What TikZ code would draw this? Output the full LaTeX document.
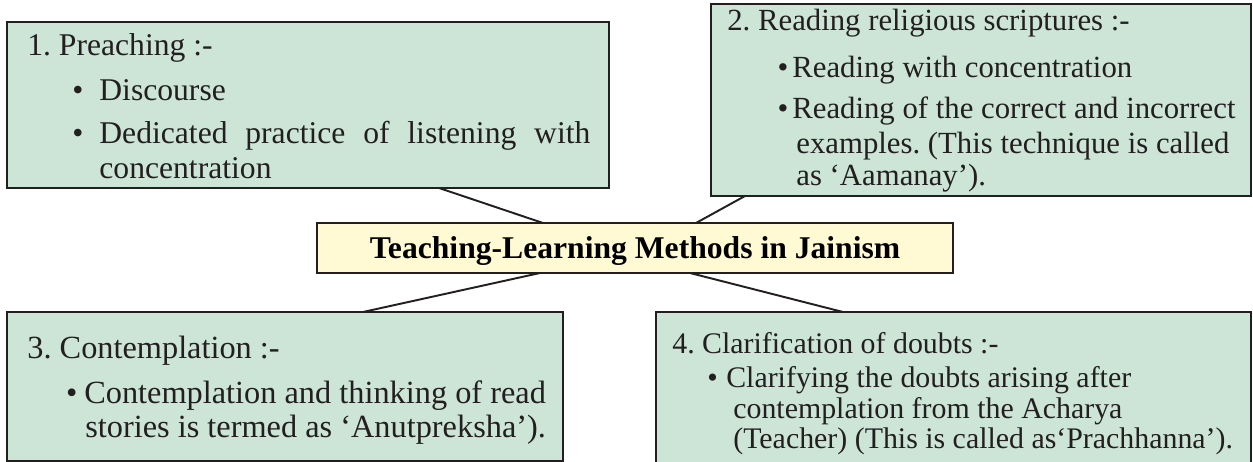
\documentclass[tikz,border=0pt]{standalone}
\usepackage{fontspec}
\setmainfont{Liberation Serif}
\usepackage{xcolor}
\usepackage{tikz}
\usetikzlibrary{positioning}

\definecolor{mint}{RGB}{204,229,214}
\definecolor{cream}{RGB}{255,250,212}
\definecolor{ink}{RGB}{35,31,32}

\newcommand{\blt}[2]{\hspace*{#1}\makebox[#2][l]{\textbullet}}
\frenchspacing

\begin{document}
\begin{tikzpicture}[
    blk/.style={draw=ink, line width=1.2pt, inner sep=0pt, outer sep=0pt},
    grp/.style={blk, fill=mint},
    ttl/.style={blk, fill=cream, font=\fontsize{18}{20}\selectfont\bfseries,
                text height=12pt, text depth=0pt},
    txt/.style={anchor=north west, align=left, inner sep=0pt, text=ink},
    lnk/.style={draw=ink, line width=1.1pt}
  ]
  \clip (0,0) rectangle (25.06,9.24);

  \node[grp, minimum width=12.04cm, minimum height=3.32cm] (g1) at (6.16,7.14) {};
  \node[grp, minimum width=10.80cm, minimum height=3.84cm] (g2) at (19.62,7.24) {};
  \node[grp, minimum width=11.12cm, minimum height=2.98cm] (g3) at (5.70,1.51) {};
  \node[grp, minimum width=11.90cm, minimum height=3.26cm] (g4) at (19.07,1.37) {};
  \node[ttl, minimum width=12.72cm, minimum height=1.00cm] (ctr) at (12.70,4.28)
    {Teaching-Learning Methods in Jainism};

  \node[txt, font=\fontsize{18}{20}\selectfont] (t1) at ([xshift=0.40cm, yshift=-6.5pt]g1.north west)
    {1. Preaching :-\\[5.6pt]
     \blt{25.6pt}{15.4pt}Discourse\\[4.5pt]
     \blt{25.6pt}{15.4pt}\makebox[279.4pt][s]{Dedicated practice of listening with}\\
     \hspace*{41pt}concentration};

  \node[txt, font=\fontsize{17.5}{19.5}\selectfont] (t2) at ([xshift=0.32cm, yshift=-2.9pt]g2.north west)
    {2. Reading religious scriptures :-\\[7.2pt]
     \blt{28.6pt}{8.4pt}Reading with concentration\\[3.8pt]
     \blt{28.6pt}{8.4pt}Reading of the correct and incorrect\\[0.4pt]
     \hspace*{39.3pt}examples. (This technique is called\\[-1.3pt]
     \hspace*{39.3pt}as `Aamanay').};

  \node[txt, font=\fontsize{18.4}{19.5}\selectfont] (t3) at ([xshift=0.40cm, yshift=-13.6pt]g3.north west)
    {3. Contemplation :-\\[6.1pt]
     \blt{22pt}{10.4pt}Contemplation and thinking of read\\
     \hspace*{33pt}stories is termed as `Anutpreksha').};

  \node[txt, font=\fontsize{17}{17.3}\selectfont] (t4) at ([xshift=0.32cm, yshift=-11.7pt]g4.north west)
    {4. Clarification of doubts :-\\[2pt]
     \blt{19.9pt}{10.8pt}Clarifying the doubts arising after\\
     \hspace*{34.7pt}contemplation from the Acharya\\
     \hspace*{34.7pt}(Teacher) (This is called as`Prachhanna').};

  \draw[lnk] ([xshift=8.64cm]g1.south west) -- ([xshift=4.52cm]ctr.north west);
  \draw[lnk] ([xshift=0.68cm]g2.south west) -- ([xshift=7.58cm]ctr.north west);
  \draw[lnk] ([xshift=4.46cm]ctr.south west) -- ([xshift=7.12cm]g3.north west);
  \draw[lnk] ([xshift=7.46cm]ctr.south west) -- ([xshift=3.74cm]g4.north west);
\end{tikzpicture}
\end{document}
